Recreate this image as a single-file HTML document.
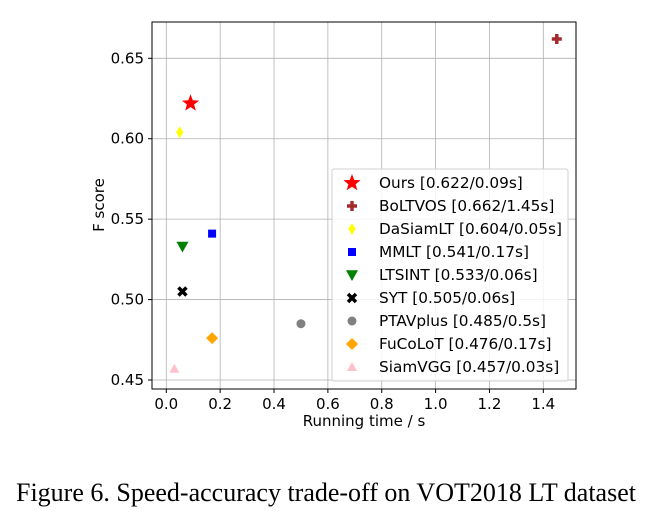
<!DOCTYPE html>
<html><head><meta charset="utf-8"><style>
html,body{margin:0;padding:0;background:#fff;width:659px;height:523px;overflow:hidden}
svg{display:block}
text{font-family:"DejaVu Sans","Liberation Sans",sans-serif}
</style></head><body>
<svg id="chart" width="659" height="523" xmlns="http://www.w3.org/2000/svg">
<g id="grid"></g>
<g id="axes"></g>
<g id="marks"></g>
<g id="legend"></g>
<text x="364" y="426" font-size="15" text-anchor="middle">Running time / s</text>
<text transform="translate(104,205) rotate(-90)" font-size="15" text-anchor="middle">F score</text>
<text x="16" y="501" font-size="26" style="font-family:'Liberation Serif',serif">Figure 6. Speed-accuracy trade-off on VOT2018 LT dataset</text>
</svg>
<script>
const names=["Ours","BoLTVOS","DaSiamLT","MMLT","LTSINT","SYT","PTAVplus","FuCoLoT","SiamVGG"];
const fscores=[0.622,0.662,0.604,0.541,0.533,0.505,0.485,0.476,0.457];
const times=[0.09,1.45,0.05,0.17,0.06,0.06,0.5,0.17,0.03];
const xTicks=[0,0.2,0.4,0.6,0.8,1.0,1.2,1.4];
const yTicks=[0.45,0.50,0.55,0.60,0.65];
const colors=["#ff0000","#a52a2a","#ffff00","#0000ff","#008000","#000000","#808080","#ffa500","#ffc0cb"];
const shapes=["star","plus","thin_diamond","square","tri_down","x","circle","diamond","tri_up"];
const L=152,R=576,T=22,B=389;
const X=v=>166.3+v*269.3, Y=v=>380-(v-0.45)*1608.5;
const NS="http://www.w3.org/2000/svg";
function mk(tag,attrs,parent){const e=document.createElementNS(NS,tag);for(const k in attrs)e.setAttribute(k,attrs[k]);parent.appendChild(e);return e;}
const grid=document.getElementById('grid'),axes=document.getElementById('axes'),marks=document.getElementById('marks'),leg=document.getElementById('legend');
xTicks.forEach(t=>{const x=X(t);
 const g=mk('line',{x1:x,x2:x,y1:T,y2:B,stroke:'#b0b0b0','stroke-width':0.8},grid);
 
 
 mk('line',{x1:x,x2:x,y1:B,y2:B+4,stroke:'#000'},axes);
 const tx=mk('text',{x:x,y:B+20,'font-size':15,'text-anchor':'middle'},axes);tx.textContent=t.toFixed(1);
 
 });
yTicks.forEach(t=>{const y=Y(t);
 const g=mk('line',{x1:L,x2:R,y1:y,y2:y,stroke:'#b0b0b0','stroke-width':0.8},grid);
 
 
 mk('line',{x1:L-4,x2:L,y1:y,y2:y,stroke:'#000'},axes);
 const tx=mk('text',{x:L-8,y:y+5,'font-size':15,'text-anchor':'end'},axes);tx.textContent=t.toFixed(2);
 
 });
mk('rect',{x:L,y:T,width:R-L,height:B-T,fill:'none',stroke:'#000','stroke-width':1},axes);
function marker(shape,cx,cy,c,p,s){let e;
 if(shape==='star'){let pts=[];for(let i=0;i<10;i++){const r=i%2?s*0.42:s,a=-Math.PI/2+i*Math.PI/5;pts.push((cx+r*Math.cos(a)).toFixed(1)+','+(cy+r*Math.sin(a)).toFixed(1));}e=mk('polygon',{points:pts.join(' '),fill:c},p);}
 else if(shape==='plus'){const a=s*0.35,b=s;e=mk('path',{d:`M${cx-a},${cy-b}h${2*a}v${b-a}h${b-a}v${2*a}h${a-b}v${b-a}h${-2*a}v${a-b}h${a-b}v${-2*a}h${b-a}z`,fill:c},p);}
 else if(shape==='thin_diamond'){e=mk('polygon',{points:`${cx},${cy-s} ${cx+s*0.6},${cy} ${cx},${cy+s} ${cx-s*0.6},${cy}`,fill:c},p);}
 else if(shape==='diamond'){e=mk('polygon',{points:`${cx},${cy-s} ${cx+s},${cy} ${cx},${cy+s} ${cx-s},${cy}`,fill:c},p);}
 else if(shape==='square'){e=mk('rect',{x:cx-s*0.8,y:cy-s*0.8,width:s*1.6,height:s*1.6,fill:c},p);}
 else if(shape==='tri_down'){e=mk('polygon',{points:`${cx-s},${cy-s*0.8} ${cx+s},${cy-s*0.8} ${cx},${cy+s}`,fill:c},p);}
 else if(shape==='tri_up'){e=mk('polygon',{points:`${cx-s},${cy+s*0.8} ${cx+s},${cy+s*0.8} ${cx},${cy-s}`,fill:c},p);}
 else if(shape==='x'){e=mk('path',{d:`M${cx-s*0.8},${cy-s*0.8}L${cx+s*0.8},${cy+s*0.8}M${cx+s*0.8},${cy-s*0.8}L${cx-s*0.8},${cy+s*0.8}`,stroke:c,'stroke-width':s*0.7},p);}
 else {e=mk('circle',{cx:cx,cy:cy,r:s*0.9,fill:c},p);}
 return e;}
const sizes=[9,5,6,5,6,5,5,6,5];
names.forEach((n,i)=>{const e=marker(shapes[i],X(times[i]),Y(fscores[i]),colors[i],marks,sizes[i]);
 
 });
const lb=mk('rect',{x:332,y:169,width:236,height:212,fill:'#fff','fill-opacity':0.85,stroke:'#d0d0d0',rx:2},leg);


names.forEach((n,i)=>{const y=183+i*23;
 const m=marker(shapes[i],352,y,colors[i],leg,i===0?9:sizes[i]);
 
 
 const t=mk('text',{x:379,y:y+5,'font-size':15.3},leg);t.textContent=`${n} [${fscores[i].toFixed(3)}/${times[i]}s]`;
 
 });
</script>
</body></html>
